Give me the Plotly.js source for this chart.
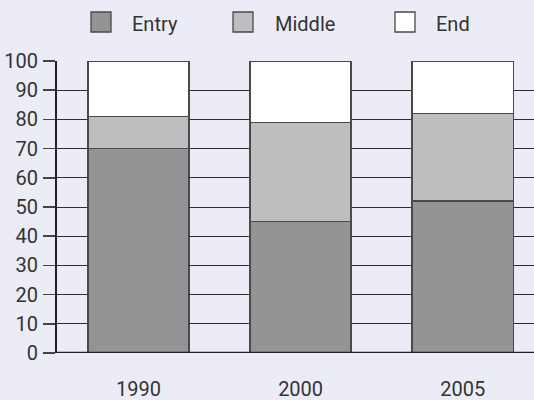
<!DOCTYPE html>
<html>
<head>
<meta charset="utf-8">
<script src="https://cdn.plot.ly/plotly-3.0.1.min.js"></script>
<style>
  html, body { margin: 0; padding: 0; background: #ececf6; }
  #chart { width: 534px; height: 400px; }
</style>
</head>
<body>
<div id="chart"></div>
<script>
// ---- data ----
const years = ['1990', '2000', '2005'];
const entry = [70, 45, 52];
const middle = [11, 34, 30];
const endPart = [19, 21, 18];
const seriesNames = ['Entry', 'Middle', 'End'];
const seriesColors = ['#939496', '#bdbec0', '#ffffff'];
const yTicks = [0, 10, 20, 30, 40, 50, 60, 70, 80, 90, 100];

const FONT = 'Roboto, "Liberation Sans", sans-serif';
const W = 534, H = 400;
const M = { l: 57, r: 0, t: 61, b: 47 };
const PW = W - M.l - M.r, PH = H - M.t - M.b;
function px(x) { return (x - M.l) / PW; }
function py(y) { return (H - M.b - y) / PH; }

const values = [entry, middle, endPart];
const traces = values.map((v, i) => ({
  type: 'bar',
  x: years,
  y: v,
  name: seriesNames[i],
  marker: { color: seriesColors[i], line: { color: '#4a4a4a', width: 1.4 } },
  showlegend: false,
  hoverinfo: 'skip'
}));

// custom legend (squares + labels)
const legendSquaresX = [91, 233, 395];
const legendTextX = [130, 273, 434];
const shapes = [];
const annotations = [];
seriesNames.forEach((n, i) => {
  shapes.push({
    type: 'rect', xref: 'paper', yref: 'paper',
    x0: px(legendSquaresX[i]), x1: px(legendSquaresX[i] + 20),
    y0: py(12), y1: py(32),
    fillcolor: seriesColors[i], line: { color: '#4a4a4a', width: 1.3 }
  });
  annotations.push({
    xref: 'paper', yref: 'paper', x: px(legendTextX[i]), y: py(24),
    xanchor: 'left', yanchor: 'middle', showarrow: false,
    text: n, font: { family: FONT, size: 20, color: '#333333' }
  });
});

const layout = {
  width: W, height: H,
  margin: M,
  paper_bgcolor: '#ececf6',
  plot_bgcolor: '#ececf6',
  barmode: 'stack',
  bargap: 0.3765,
  showlegend: false,
  font: { family: FONT, size: 20, color: '#333333' },
  xaxis: {
    type: 'category',
    range: [-0.503, 2.44],
    showgrid: false, zeroline: false, showline: false,
    ticks: '', ticklabelstandoff: 22,
    tickfont: { family: FONT, size: 20, color: '#333333' },
    fixedrange: true
  },
  yaxis: {
    range: [0, 100],
    tickvals: yTicks,
    ticktext: yTicks.map(String),
    showgrid: true, gridcolor: '#2e2e2e', gridwidth: 1,
    zeroline: false,
    showline: true, linecolor: '#222222', linewidth: 2,
    ticks: 'outside', ticklen: 12, tickwidth: 1.5, tickcolor: '#444444',
    ticklabelstandoff: 1,
    tickfont: { family: FONT, size: 20, color: '#333333' },
    fixedrange: true
  },
  shapes: shapes.concat([{
    type: 'line', xref: 'paper', yref: 'y', x0: 0, x1: 1, y0: 0, y1: 0,
    line: { color: '#222222', width: 2.5 }
  }]),
  annotations: annotations
};

Plotly.newPlot('chart', traces, layout, { displayModeBar: false, staticPlot: true });
</script>
</body>
</html>
